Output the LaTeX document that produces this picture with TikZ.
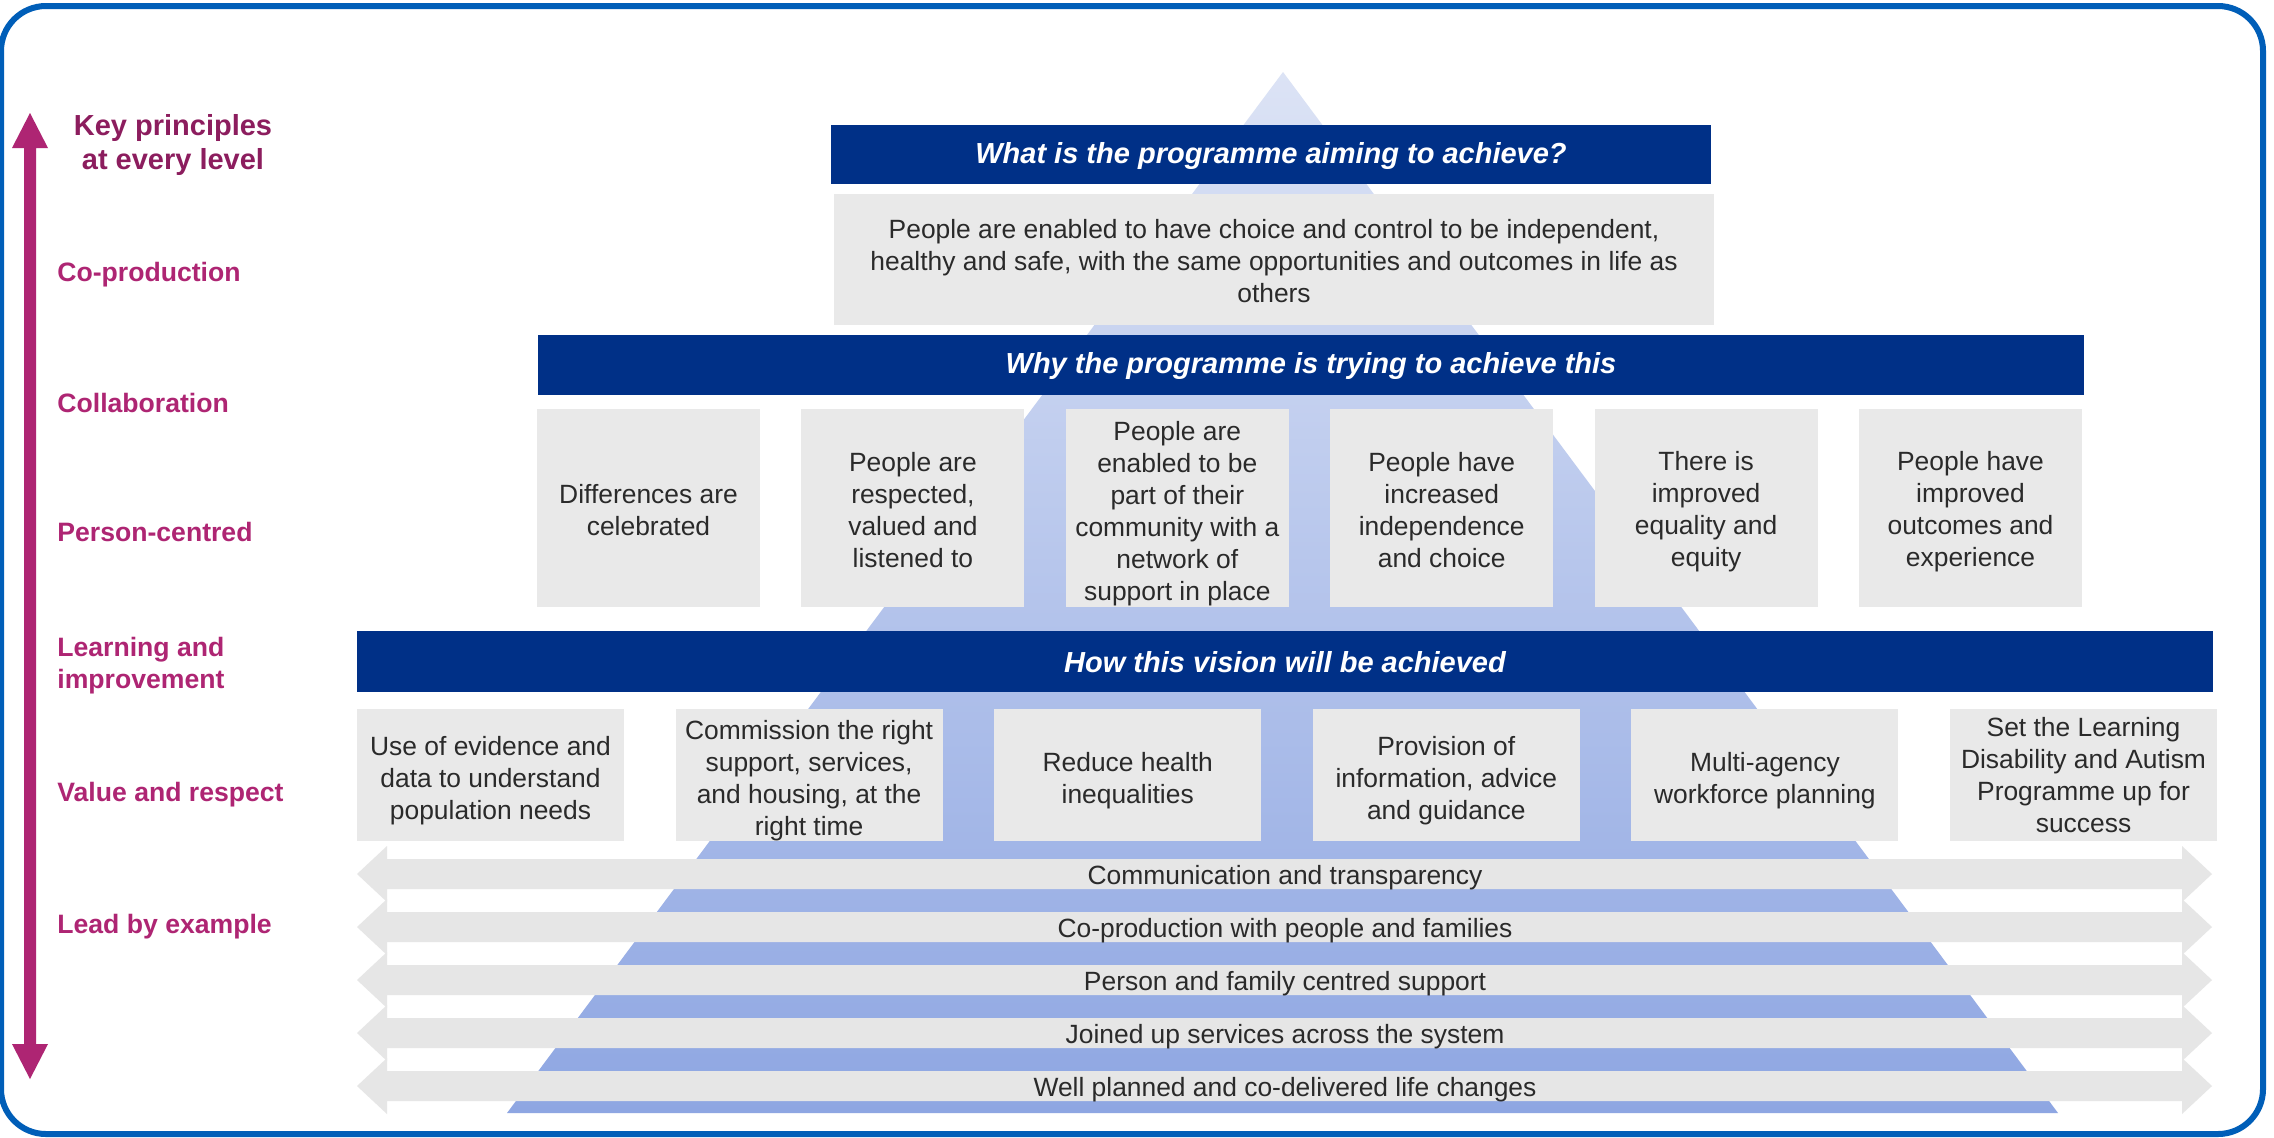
\documentclass[tikz,border=0pt]{standalone}
\usepackage{fontspec}
\setmainfont{Liberation Sans}
\definecolor{navy}{HTML}{003087}
\definecolor{frameblue}{HTML}{005EB8}
\definecolor{boxgray}{HTML}{E9E9E9}
\definecolor{arrowgray}{HTML}{E6E6E6}
\definecolor{txt}{HTML}{2A2A2A}
\definecolor{nhsmagenta}{HTML}{AE2573}
\definecolor{keyprin}{HTML}{8C1D5E}
\definecolor{pyrtop}{HTML}{DCE3F5}
\definecolor{pyrbot}{HTML}{8EA6E2}
\tikzset{
  header/.style={fill=navy, text=white, font=\fontsize{14.5}{17}\selectfont\bfseries\itshape, inner sep=0pt},
  boxfill/.style={fill=boxgray, inner sep=0pt},
  boxtext/.style={text=txt, font=\fontsize{13.2}{16}\selectfont, align=center, inner sep=0pt},
  rowtwo/.style={boxfill, minimum width=111.5pt, minimum height=99pt},
  rowthree/.style={boxfill, minimum width=133.5pt, minimum height=66pt},
  principle/.style={text=nhsmagenta, font=\fontsize{13.3}{16}\selectfont\bfseries, anchor=west, align=left, inner sep=0pt},
  barlabel/.style={text=txt, font=\fontsize{13.2}{16}\selectfont, inner sep=0pt},
}
\begin{document}
\begin{tikzpicture}[x=0.5pt,y=-0.5pt]
\useasboundingbox (0,0) rectangle (2274,1137);
\fill[white] (0,0) rectangle (2274,1137);
% frame
\draw[frameblue, line width=3pt, rounded corners=22.5pt] (1,6) rectangle (2263,1134);
% pyramid
\shade[top color=pyrtop, bottom color=pyrbot] (1283,72) -- (2058,1113) -- (507,1113) -- cycle;
% vertical double arrow
\fill[nhsmagenta] (30,113) -- (48,148) -- (36,148) -- (36,1044) -- (48,1044) -- (30,1079) -- (12,1044) -- (24,1044) -- (24,148) -- (12,148) -- cycle;
% key principles
\node[text=keyprin, font=\fontsize{14.5}{17}\selectfont\bfseries, align=center, inner sep=0pt] (keyp) at (173,145) {Key principles\\at every level};
\node[principle] (p1) at (57,275) {Co-production};
\node[principle] (p2) at (57,403) {Collaboration};
\node[principle] (p3) at (57,532) {Person-centred};
\node[principle] (p4) at (57,666) {Learning and\\improvement};
\node[principle] (p5) at (57,795) {Value and respect};
\node[principle] (p6) at (57,927) {Lead by example};
% double arrows
\foreach \c/\t [count=\i] in {874/Communication and transparency, 927/Co-production with people and families, 980/Person and family centred support, 1033/Joined up services across the system, 1086/Well planned and co-delivered life changes} {
  \fill[arrowgray] (357,\c) -- (387,\c-28) -- (387,\c-15) -- (2182,\c-15) -- (2182,\c-28) -- (2212,\c) -- (2182,\c+28) -- (2182,\c+15) -- (387,\c+15) -- (387,\c+28) -- cycle;
  \node[barlabel] (bar\i) at (1285,\c+4) {\t};
}
% level 1
\node[header, minimum width=440pt, minimum height=29.5pt] (h1) at (1271,154.5) {};
\node[header] (h1t) at (1271,155.5) {What is the programme aiming to achieve?};
\node[boxfill, minimum width=440pt, minimum height=65.5pt] (aim) at (1274,259.5) {};
\node[boxtext] (aimt) at (1274,261.5) {People are enabled to have choice and control to be independent,\\healthy and safe, with the same opportunities and outcomes in life as\\others};
% level 2
\node[header, minimum width=773pt, minimum height=30pt] (h2) at (1311,365) {};
\node[header] (h2t) at (1311,366) {Why the programme is trying to achieve this};
\node[rowtwo] (w1) at (648.5,508) {};
\node[rowtwo] (w2) at (912.9,508) {};
\node[rowtwo] (w3) at (1177.3,508) {};
\node[rowtwo] (w4) at (1441.7,508) {};
\node[rowtwo] (w5) at (1706.1,508) {};
\node[rowtwo] (w6) at (1970.5,508) {};
\node[boxtext] (w1t) at ([yshift=-1pt]w1.center) {Differences are\\celebrated};
\node[boxtext] (w2t) at ([yshift=-1pt]w2.center) {People are\\respected,\\valued and\\listened to};
\node[boxtext] (w3t) at ([yshift=-3pt]w3.center) {People are\\enabled to be\\part of their\\community with a\\network of\\support in place};
\node[boxtext] (w4t) at ([yshift=-1pt]w4.center) {People have\\increased\\independence\\and choice};
\node[boxtext] (w5t) at ([yshift=-2pt]w5.center) {There is\\improved\\equality and\\equity};
\node[boxtext] (w6t) at ([yshift=-2pt]w6.center) {People have\\improved\\outcomes and\\experience};
% level 3
\node[header, minimum width=928pt, minimum height=30.5pt] (h3) at (1285,661.5) {};
\node[header] (h3t) at (1285,662.5) {How this vision will be achieved};
\node[rowthree] (v1) at (490.5,775) {};
\node[rowthree] (v2) at (809.1,775) {};
\node[rowthree] (v3) at (1127.7,775) {};
\node[rowthree] (v4) at (1446.3,775) {};
\node[rowthree] (v5) at (1764.9,775) {};
\node[rowthree] (v6) at (2083.5,775) {};
\node[boxtext] (v1t) at ([yshift=-3pt]v1.center) {Use of evidence and\\data to understand\\population needs};
\node[boxtext] (v2t) at ([yshift=-3pt]v2.center) {Commission the right\\support, services,\\and housing, at the\\right time};
\node[boxtext] (v3t) at ([yshift=-3pt]v3.center) {Reduce health\\inequalities};
\node[boxtext] (v4t) at ([yshift=-3pt]v4.center) {Provision of\\information, advice\\and guidance};
\node[boxtext] (v5t) at ([yshift=-3pt]v5.center) {Multi-agency\\workforce planning};
\node[boxtext] (v6t) at ([yshift=0pt]v6.center) {Set the Learning\\Disability and Autism\\Programme up for\\success};
\end{tikzpicture}
\end{document}
